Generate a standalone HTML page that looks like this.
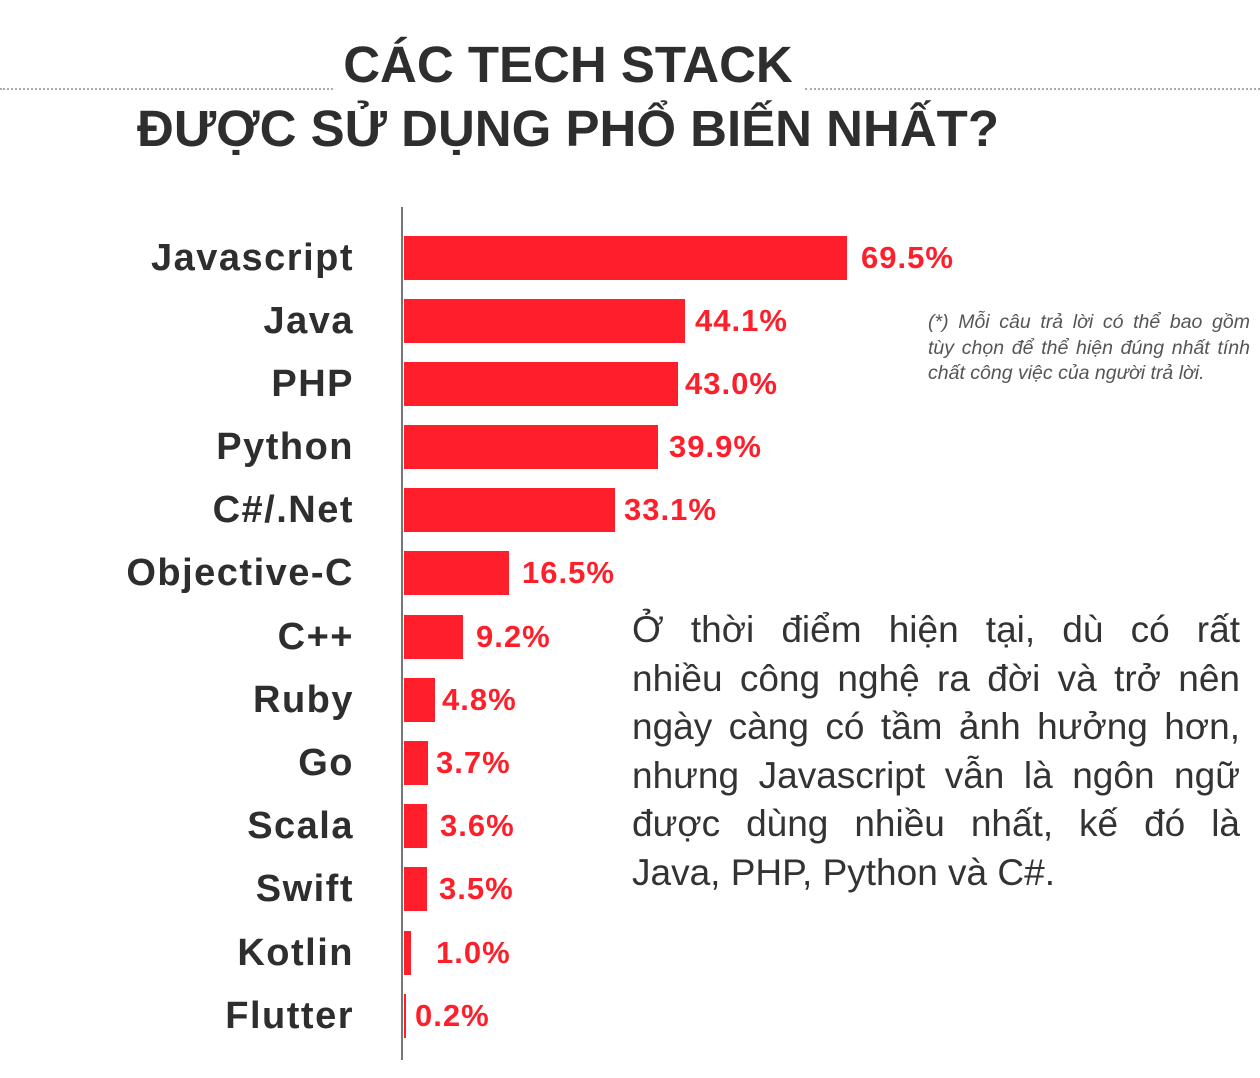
<!DOCTYPE html>
<html><head><meta charset="utf-8"><style>
body{margin:0;width:1260px;height:1078px;background:#fff;position:relative;overflow:hidden;font-family:"Liberation Sans","Noto Sans CJK SC",sans-serif;color:#2e2e2e}
.t{position:absolute;font-weight:bold;font-size:51px;white-space:nowrap;text-align:center;left:0;width:1136px}
.dot{position:absolute;top:88px;height:0;border-top:2px dotted #aaa}
.lab{position:absolute;right:906px;font-weight:bold;font-size:38px;letter-spacing:1.5px;white-space:nowrap;line-height:44px}
.bar{position:absolute;left:404px;height:44px;background:#fe1f2b}
.val{position:absolute;color:#fe1f2b;font-weight:bold;font-size:31px;letter-spacing:1px;line-height:44px;white-space:nowrap}
.note{position:absolute;left:928px;top:310px;width:322px;font-style:italic;font-size:19.5px;line-height:25.5px;color:#555}
.para{position:absolute;left:632px;top:606px;width:608px;font-size:37px;line-height:48.5px;color:#333}
.j{text-align:justify;text-align-last:justify;white-space:nowrap}
</style></head><body>
<div class="dot" style="left:0;width:333px"></div>
<div class="dot" style="left:805px;width:455px"></div>
<div class="t" style="top:35px;">CÁC TECH STACK</div>
<div class="t" style="top:99px;">ĐƯỢC SỬ DỤNG PHỔ BIẾN NHẤT?</div>
<div style="position:absolute;left:401px;top:207px;width:2px;height:853px;background:#777"></div>

<div class="lab" style="top:236px">Javascript</div><div class="bar" style="top:236px;width:443px"></div><div class="val" style="top:236px;left:861px">69.5%</div>
<div class="lab" style="top:299px">Java</div><div class="bar" style="top:299px;width:281px"></div><div class="val" style="top:299px;left:695px">44.1%</div>
<div class="lab" style="top:362px">PHP</div><div class="bar" style="top:362px;width:274px"></div><div class="val" style="top:362px;left:685px">43.0%</div>
<div class="lab" style="top:425px">Python</div><div class="bar" style="top:425px;width:254px"></div><div class="val" style="top:425px;left:669px">39.9%</div>
<div class="lab" style="top:488px">C#/.Net</div><div class="bar" style="top:488px;width:211px"></div><div class="val" style="top:488px;left:624px">33.1%</div>
<div class="lab" style="top:551px">Objective-C</div><div class="bar" style="top:551px;width:105px"></div><div class="val" style="top:551px;left:522px">16.5%</div>
<div class="lab" style="top:615px">C++</div><div class="bar" style="top:615px;width:59px"></div><div class="val" style="top:615px;left:476px">9.2%</div>
<div class="lab" style="top:678px">Ruby</div><div class="bar" style="top:678px;width:31px"></div><div class="val" style="top:678px;left:442px">4.8%</div>
<div class="lab" style="top:741px">Go</div><div class="bar" style="top:741px;width:24px"></div><div class="val" style="top:741px;left:436px">3.7%</div>
<div class="lab" style="top:804px">Scala</div><div class="bar" style="top:804px;width:23px"></div><div class="val" style="top:804px;left:440px">3.6%</div>
<div class="lab" style="top:867px">Swift</div><div class="bar" style="top:867px;width:23px"></div><div class="val" style="top:867px;left:439px">3.5%</div>
<div class="lab" style="top:931px">Kotlin</div><div class="bar" style="top:931px;width:7px"></div><div class="val" style="top:931px;left:436px">1.0%</div>
<div class="lab" style="top:994px">Flutter</div><div class="bar" style="top:994px;width:2px"></div><div class="val" style="top:994px;left:415px">0.2%</div>

<div class="note"><div class="j">(*) Mỗi câu trả lời có thể bao gồm</div><div class="j">tùy chọn để thể hiện đúng nhất tính</div><div>chất công việc của người trả lời.</div></div>
<div class="para">
<div class="j">Ở thời điểm hiện tại, dù có rất</div>
<div class="j">nhiều công nghệ ra đời và trở nên</div>
<div class="j">ngày càng có tầm ảnh hưởng hơn,</div>
<div class="j">nhưng Javascript vẫn là ngôn ngữ</div>
<div class="j">được dùng nhiều nhất, kế đó là</div>
<div>Java, PHP, Python và C#.</div>
</div>
</body></html>
